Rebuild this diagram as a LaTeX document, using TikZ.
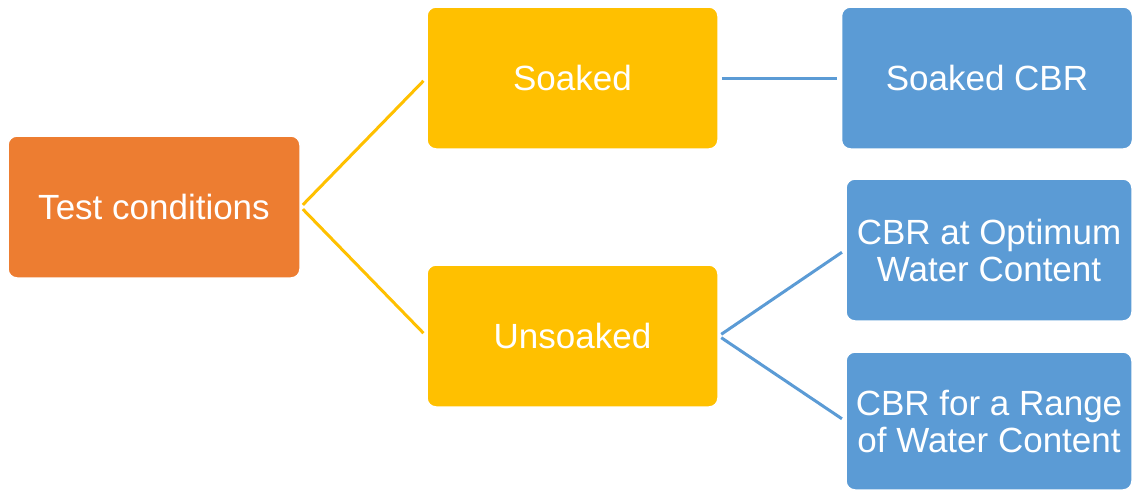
\documentclass[tikz,border=0pt]{standalone}
\usepackage{fontspec}
\setmainfont{Liberation Sans}
\definecolor{boxorange}{HTML}{ED7D31}
\definecolor{boxyellow}{HTML}{FFC000}
\definecolor{boxblue}{HTML}{5B9BD5}
\tikzset{
  card/.style={rectangle, rounded corners=9pt, draw=white, line width=1.5pt,
    text=white, align=center, font=\fontsize{35}{37}\selectfont,
    minimum width=291pt, minimum height=142pt, inner sep=0pt},
  link/.style={line width=3pt, shorten <=3pt, shorten >=4pt}
}
\begin{document}
\begin{tikzpicture}[x=1pt,y=-1pt]
\useasboundingbox (0,0) rectangle (1133,491);
% level 0
\node[card, fill=boxorange, minimum width=292pt] (test) at (154,207) {Test conditions};
% level 1
\node[card, fill=boxyellow] (soaked) at (572.5,78) {Soaked};
\node[card, fill=boxyellow] (unsoaked) at (572.5,336) {Unsoaked};
% level 2
\node[card, fill=boxblue] (scbr) at (987,78) {Soaked CBR};
\node[card, fill=boxblue, minimum width=286pt] (ocbr) at (989,250) {CBR at Optimum\\Water Content};
\node[card, fill=boxblue, minimum width=286pt, minimum height=138pt] (rcbr) at (989,421) {CBR for a Range\\of Water Content};
% connectors
\draw[link, boxyellow] (test.east) -- (soaked.west);
\draw[link, boxyellow] (test.east) -- (unsoaked.west);
\draw[link, boxblue] (soaked.east) -- (scbr.west);
\draw[link, boxblue] (unsoaked.east) -- (ocbr.west);
\draw[link, boxblue] (unsoaked.east) -- (rcbr.west);
\end{tikzpicture}
\end{document}
